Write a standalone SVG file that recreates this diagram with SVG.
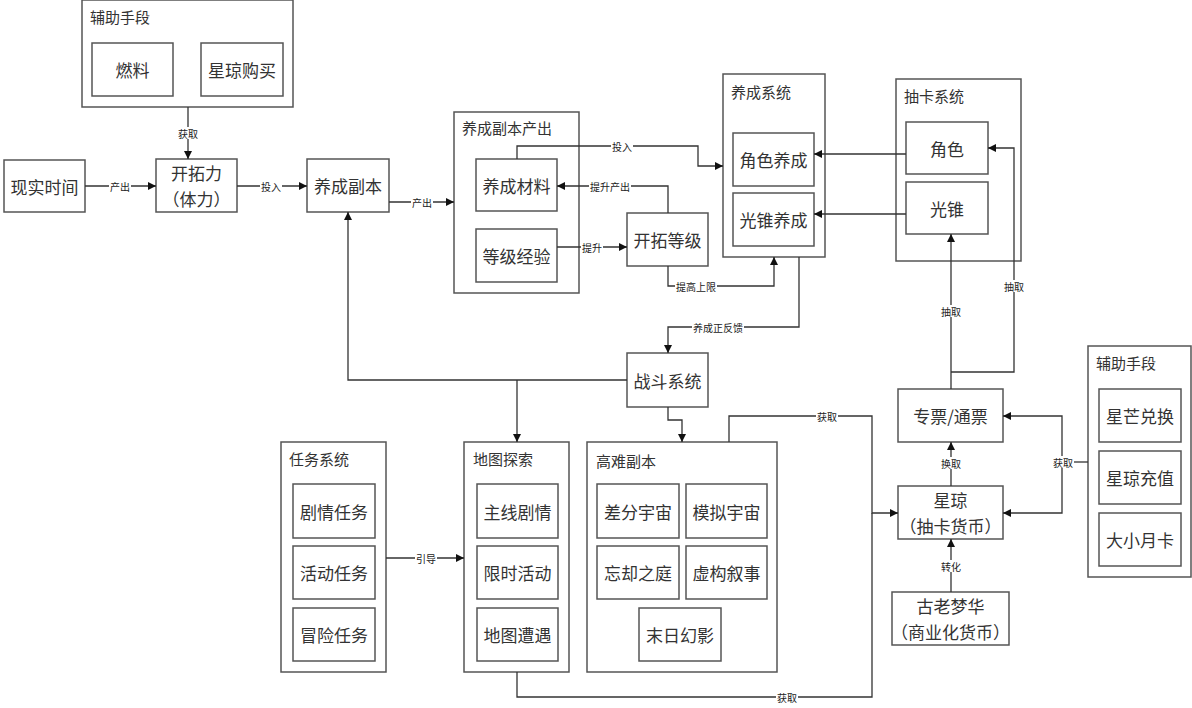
<svg xmlns="http://www.w3.org/2000/svg" width="1192" height="708" viewBox="0 0 1192 708">
<style>
.b{fill:#fff;stroke:#555;stroke-width:1.5}
.t{font-family:"Noto Sans CJK SC","Liberation Sans",sans-serif;font-size:17px;fill:#333;text-anchor:middle;dominant-baseline:central}
.tt{font-family:"Noto Sans CJK SC","Liberation Sans",sans-serif;font-size:15px;fill:#333;dominant-baseline:central}
.c{fill:none;stroke:#333;stroke-width:1.3}
.a{marker-end:url(#ar)}
.lb{fill:#fff}
.l{font-family:"Noto Sans CJK SC","Liberation Sans",sans-serif;font-size:10px;fill:#222;text-anchor:middle;dominant-baseline:central}
</style>
<defs>
<marker id="ar" markerWidth="9" markerHeight="8" refX="8" refY="4" orient="auto" markerUnits="userSpaceOnUse">
<path d="M0,0 L8,4 L0,8 z" fill="#111"/>
</marker>
</defs>
<rect width="1192" height="708" fill="#fff"/>

<g id="aux-top">
<rect class="b" x="82" y="0" width="211" height="107"/>
<text class="tt" x="90" y="16">辅助手段</text>
<rect class="b" x="92" y="43" width="81" height="53"/>
<text class="t" x="132.5" y="69.5">燃料</text>
<rect class="b" x="201" y="43" width="82" height="53"/>
<text class="t" x="242" y="69.5">星琼购买</text>
</g>

<g id="realtime">
<rect class="b" x="4" y="160" width="81" height="52"/>
<text class="t" x="44.5" y="186">现实时间</text>
</g>

<g id="stamina">
<rect class="b" x="156" y="159" width="81" height="53"/>
<text class="t" x="196.5" y="172.5">开拓力</text>
<text class="t" x="196.5" y="198.5" font-size="16">（体力）</text>
</g>

<g id="dungeon">
<rect class="b" x="307" y="159" width="82" height="53"/>
<text class="t" x="348" y="185.5">养成副本</text>
</g>

<g id="dungeon-output">
<rect class="b" x="454" y="112" width="125" height="181"/>
<text class="tt" x="462" y="127">养成副本产出</text>
<rect class="b" x="476" y="159" width="81" height="52"/>
<text class="t" x="516.5" y="185">养成材料</text>
<rect class="b" x="476" y="229" width="81" height="53"/>
<text class="t" x="516.5" y="255.5">等级经验</text>
</g>

<g id="trailblaze-level">
<rect class="b" x="627" y="213" width="81" height="53"/>
<text class="t" x="667.5" y="239.5">开拓等级</text>
</g>

<g id="growth-system">
<rect class="b" x="723" y="74" width="102" height="183"/>
<text class="tt" x="731" y="91">养成系统</text>
<rect class="b" x="733" y="133" width="81" height="53"/>
<text class="t" x="773.5" y="159.5">角色养成</text>
<rect class="b" x="733" y="193" width="81" height="53"/>
<text class="t" x="773.5" y="219.5">光锥养成</text>
</g>

<g id="gacha-system">
<rect class="b" x="896" y="79" width="125" height="182"/>
<text class="tt" x="904" y="95">抽卡系统</text>
<rect class="b" x="906" y="122" width="82" height="52"/>
<text class="t" x="947" y="148">角色</text>
<rect class="b" x="906" y="182" width="82" height="52"/>
<text class="t" x="947" y="208">光锥</text>
</g>

<g id="combat">
<rect class="b" x="627" y="353" width="81" height="54"/>
<text class="t" x="667.5" y="380">战斗系统</text>
</g>

<g id="quest-system">
<rect class="b" x="281" y="442" width="105" height="230"/>
<text class="tt" x="289" y="458">任务系统</text>
<rect class="b" x="293" y="484" width="82" height="54"/>
<text class="t" x="334" y="511">剧情任务</text>
<rect class="b" x="293" y="546" width="82" height="53"/>
<text class="t" x="334" y="572.5">活动任务</text>
<rect class="b" x="293" y="608" width="82" height="53"/>
<text class="t" x="334" y="634.5">冒险任务</text>
</g>

<g id="map-explore">
<rect class="b" x="464" y="442" width="105" height="230"/>
<text class="tt" x="473" y="458">地图探索</text>
<rect class="b" x="477" y="484" width="81" height="54"/>
<text class="t" x="517.5" y="511">主线剧情</text>
<rect class="b" x="477" y="546" width="81" height="53"/>
<text class="t" x="517.5" y="572.5">限时活动</text>
<rect class="b" x="477" y="608" width="81" height="53"/>
<text class="t" x="517.5" y="634.5">地图遭遇</text>
</g>

<g id="hard-dungeon">
<rect class="b" x="587" y="442" width="190" height="230"/>
<text class="tt" x="596" y="460">高难副本</text>
<rect class="b" x="597" y="484" width="82" height="54"/>
<text class="t" x="638" y="511">差分宇宙</text>
<rect class="b" x="686" y="484" width="81" height="54"/>
<text class="t" x="726.5" y="511">模拟宇宙</text>
<rect class="b" x="597" y="546" width="82" height="53"/>
<text class="t" x="638" y="572.5">忘却之庭</text>
<rect class="b" x="686" y="546" width="81" height="53"/>
<text class="t" x="726.5" y="572.5">虚构叙事</text>
<rect class="b" x="639" y="608" width="82" height="53"/>
<text class="t" x="680" y="634.5">末日幻影</text>
</g>

<g id="ticket">
<rect class="b" x="898" y="389" width="105" height="53"/>
<text class="t" x="950.5" y="415.5">专票/通票</text>
</g>

<g id="stellar-jade">
<rect class="b" x="898" y="486" width="105" height="53"/>
<text class="t" x="950.5" y="499.5">星琼</text>
<text class="t" x="950.5" y="525.5" font-size="16">（抽卡货币）</text>
</g>

<g id="oneiric-shard">
<rect class="b" x="892" y="592" width="117" height="53"/>
<text class="t" x="950.5" y="605.5">古老梦华</text>
<text class="t" x="950.5" y="631.5" font-size="16">（商业化货币）</text>
</g>

<g id="aux-right">
<rect class="b" x="1088" y="346" width="103" height="231"/>
<text class="tt" x="1096" y="362">辅助手段</text>
<rect class="b" x="1099" y="389" width="82" height="53"/>
<text class="t" x="1140" y="415.5">星芒兑换</text>
<rect class="b" x="1099" y="451" width="82" height="53"/>
<text class="t" x="1140" y="477.5">星琼充值</text>
<rect class="b" x="1099" y="513" width="82" height="53"/>
<text class="t" x="1140" y="539.5">大小月卡</text>
</g>

<g id="connectors">
<path class="c a" d="M188,107 V159"/>
<path class="c a" d="M85,186 H156"/>
<path class="c a" d="M237,186 H307"/>
<path class="c a" d="M389,202 H454"/>
<path class="c a" d="M517,159 V146 H698 V166 H723"/>
<path class="c a" d="M557,247 H627"/>
<path class="c a" d="M668,213 V186 H557"/>
<path class="c a" d="M668,266 V286 H774 V257"/>
<path class="c a" d="M906,154 H814"/>
<path class="c a" d="M906,214 H814"/>
<path class="c a" d="M799,257 V327 H668 V353"/>
<path class="c a" d="M627,380 H348 V212"/>
<path class="c a" d="M517,380 V442"/>
<path class="c a" d="M668,407 V420 H682 V442"/>
<path class="c a" d="M729,442 V416 H872 V513 H898"/>
<path class="c" d="M517,672 V697 H872 V513"/>
<path class="c a" d="M951,486 V442"/>
<path class="c a" d="M951,592 V539"/>
<path class="c a" d="M951,389 V234"/>
<path class="c a" d="M951,372 H1014 V148 H988"/>
<path class="c" d="M1088,462 H1062"/>
<path class="c a" d="M1062,462 V416 H1003"/>
<path class="c a" d="M1062,462 V513 H1003"/>
<path class="c a" d="M386,558 H464"/>

<rect class="lb" x="177" y="127" width="22" height="12"/><text class="l" x="188" y="133">获取</text>
<rect class="lb" x="109" y="180" width="22" height="12"/><text class="l" x="120" y="186">产出</text>
<rect class="lb" x="260" y="180" width="22" height="12"/><text class="l" x="271" y="186">投入</text>
<rect class="lb" x="411" y="196" width="22" height="12"/><text class="l" x="422" y="202">产出</text>
<rect class="lb" x="611" y="140" width="22" height="12"/><text class="l" x="622" y="146">投入</text>
<rect class="lb" x="581" y="241" width="22" height="12"/><text class="l" x="592" y="247">提升</text>
<rect class="lb" x="589" y="180" width="42" height="12"/><text class="l" x="610" y="186">提升产出</text>
<rect class="lb" x="675" y="280" width="42" height="12"/><text class="l" x="696" y="286">提高上限</text>
<rect class="lb" x="692" y="321" width="52" height="12"/><text class="l" x="718" y="327">养成正反馈</text>
<rect class="lb" x="816" y="410" width="22" height="12"/><text class="l" x="827" y="416">获取</text>
<rect class="lb" x="776" y="691" width="22" height="12"/><text class="l" x="787" y="697">获取</text>
<rect class="lb" x="940" y="457" width="22" height="12"/><text class="l" x="951" y="463">换取</text>
<rect class="lb" x="940" y="560" width="22" height="12"/><text class="l" x="951" y="566">转化</text>
<rect class="lb" x="940" y="305" width="22" height="12"/><text class="l" x="951" y="311">抽取</text>
<rect class="lb" x="1003" y="280" width="22" height="12"/><text class="l" x="1014" y="286">抽取</text>
<rect class="lb" x="1052" y="456" width="22" height="12"/><text class="l" x="1063" y="462">获取</text>
<rect class="lb" x="415" y="552" width="22" height="12"/><text class="l" x="426" y="558">引导</text>
</g>
</svg>
